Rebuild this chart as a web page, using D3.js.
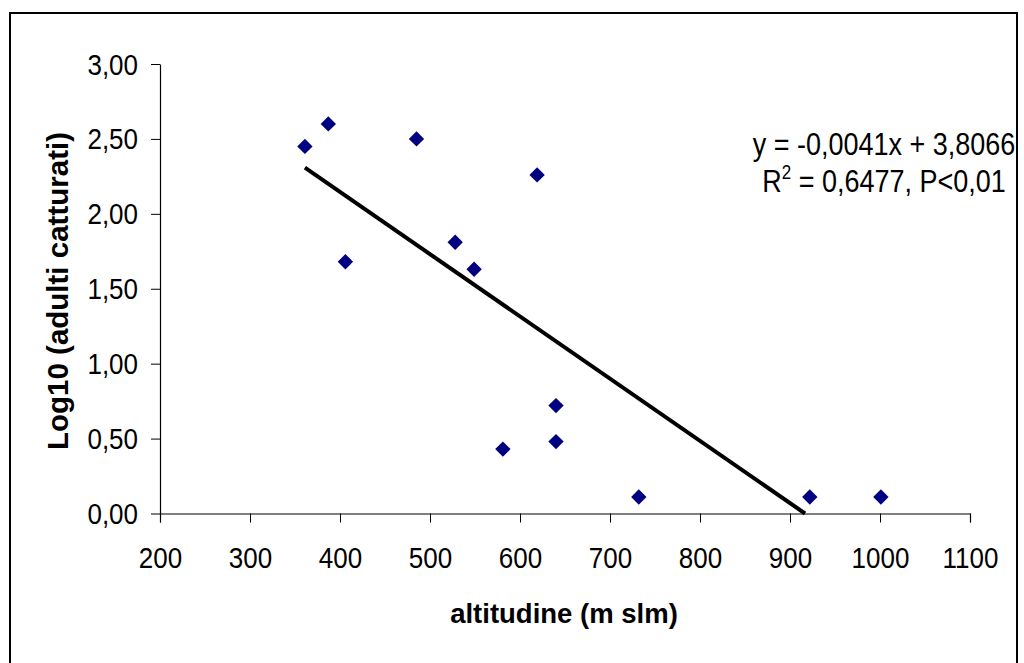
<!DOCTYPE html>
<html>
<head>
<meta charset="utf-8">
<script src="https://cdn.jsdelivr.net/npm/d3@7"></script>
<style>
  body { margin: 0; background: #fff; }
  svg { display: block; font-family: "Liberation Sans", Arial, sans-serif; }
</style>
</head>
<body>
<div id="chart"></div>
<script>
const altitude = [361, 387, 485, 619, 528, 406, 549, 640, 640, 581, 732, 922, 1001];
const logAdults = [2.45, 2.60, 2.50, 2.26, 1.81, 1.68, 1.63, 0.72, 0.48, 0.43, 0.11, 0.11, 0.11];
const xTicks = [200, 300, 400, 500, 600, 700, 800, 900, 1000, 1100];
const yTicks = [0, 0.5, 1, 1.5, 2, 2.5, 3];
const equationLines = ["y = -0,0041x + 3,8066", " = 0,6477, P<0,01"];

const width = 1024;
const height = 663;
const margin = { top: 64, right: 54, bottom: 150, left: 160 };
const stretch = 1.15;   // labels in the original look a bit taller than wide

const svg = d3.select("#chart").append("svg")
  .attr("width", width)
  .attr("height", height);

// outer frame
svg.append("rect")
  .attr("x", 10).attr("y", 13)
  .attr("width", 1007).attr("height", 670)
  .attr("fill", "none")
  .attr("stroke", "#000")
  .attr("stroke-width", 2);

const x = d3.scaleLinear().domain([200, 1100]).range([margin.left, width - margin.right]);
const y = d3.scaleLinear().domain([0, 3]).range([height - margin.bottom + 0.5, margin.top]);

const it = d3.formatLocale({ decimal: ",", thousands: ".", grouping: [3], currency: ["", "€"] });
const fmt = it.format(".2f");

const xAxis = svg.append("g")
  .attr("transform", `translate(0,${y(0)})`)
  .call(d3.axisBottom(x).tickValues(xTicks).tickFormat(d3.format("d")).tickSize(9).tickSizeOuter(9));
const yAxis = svg.append("g")
  .attr("transform", `translate(${x(200)},0)`)
  .call(d3.axisLeft(y).tickValues(yTicks).tickFormat(fmt).tickSize(9).tickSizeOuter(0));

[xAxis, yAxis].forEach(a => {
  a.select(".domain").attr("stroke", "#000").attr("stroke-width", 1.2);
  a.selectAll(".tick line").attr("stroke", "#000");
  a.selectAll("text")
    .attr("font-family", "'Liberation Sans', Arial, sans-serif")
    .attr("font-size", 26)
    .attr("fill", "#000")
    .attr("x", 0).attr("y", 0).attr("dy", 0);
});
xAxis.selectAll(".tick text").attr("transform", `translate(0,54) scale(1,${stretch})`);
yAxis.selectAll(".tick text").attr("transform", `translate(-22,10) scale(1,${stretch})`);

// regression line computed from the points
const n = altitude.length;
const mx = d3.mean(altitude), my = d3.mean(logAdults);
let sxy = 0, sxx = 0;
for (let i = 0; i < n; i++) {
  sxy += (altitude[i] - mx) * (logAdults[i] - my);
  sxx += (altitude[i] - mx) ** 2;
}
const slope = sxy / sxx;
const intercept = my - slope * mx;
const x0 = d3.min(altitude);
const x1 = Math.min(d3.max(altitude), -intercept / slope);

svg.append("line")
  .attr("x1", x(x0)).attr("y1", y(slope * x0 + intercept))
  .attr("x2", x(x1)).attr("y2", y(slope * x1 + intercept))
  .attr("stroke", "#000")
  .attr("stroke-width", 4);

// points
const diamond = d3.symbol().type(d3.symbolSquare).size(118);
svg.append("g").selectAll("path")
  .data(altitude.map((a, i) => [a, logAdults[i]]))
  .join("path")
  .attr("d", diamond)
  .attr("transform", d => `translate(${x(d[0])},${y(d[1])}) rotate(45)`)
  .attr("fill", "#000080");

// equation
const eq = svg.append("g")
  .attr("transform", `translate(884,155) scale(1,${stretch})`)
  .append("text")
  .attr("text-anchor", "middle")
  .attr("font-size", 27)
  .attr("fill", "#000");
eq.append("tspan").attr("x", 0).attr("y", 0).text(equationLines[0]);
const l2 = eq.append("tspan").attr("x", 0).attr("y", 37 / stretch);
l2.append("tspan").text("R");
l2.append("tspan").attr("font-size", 17).attr("dy", -11).text("2");
l2.append("tspan").attr("dy", 11).text(equationLines[1]);

// axis titles
svg.append("text")
  .attr("x", 564).attr("y", 623)
  .attr("text-anchor", "middle")
  .attr("font-size", 27.5)
  .attr("font-weight", "bold")
  .text("altitudine (m slm)");

svg.append("text")
  .attr("transform", "translate(68,291) rotate(-90)")
  .attr("text-anchor", "middle")
  .attr("font-size", 29.5)
  .attr("font-weight", "bold")
  .text("Log10 (adulti catturati)");
</script>
</body>
</html>
